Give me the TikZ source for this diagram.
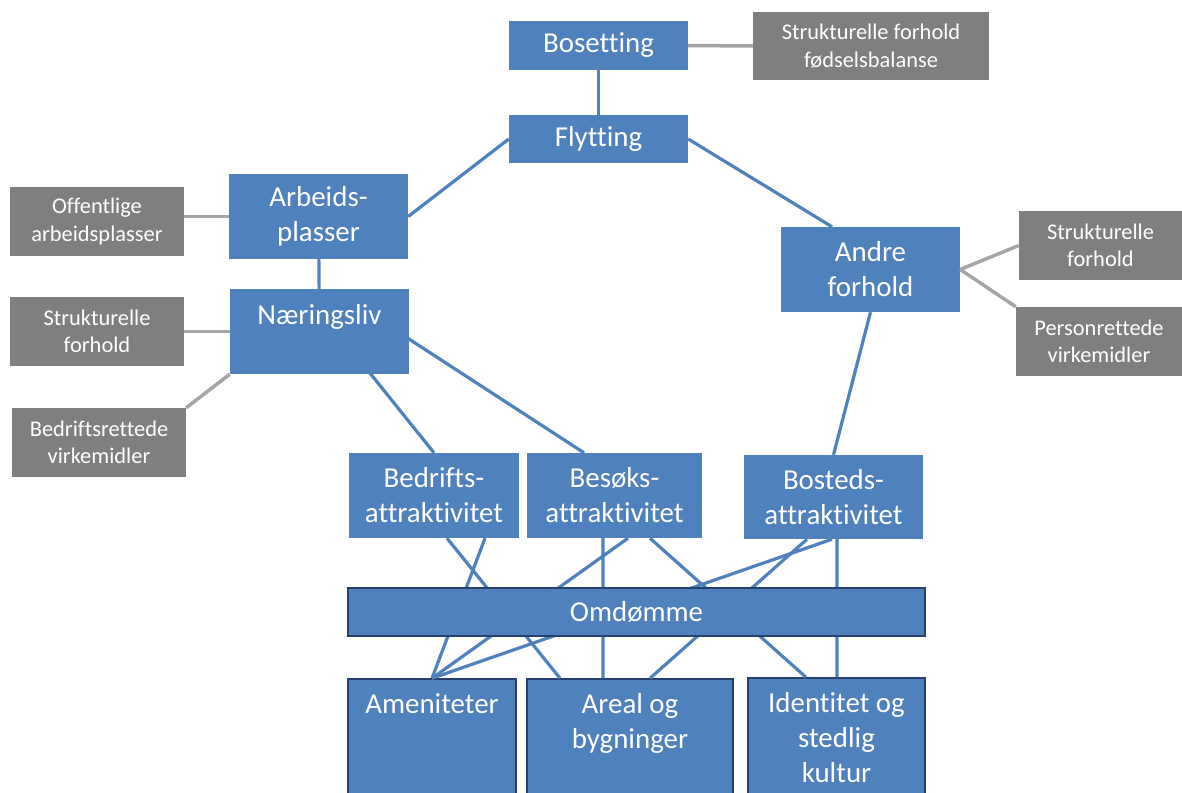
\documentclass[tikz,border=0pt]{standalone}
\usepackage{fontspec}
\setmainfont{Carlito}[Ligatures=NoCommon]
\definecolor{boxblue}{HTML}{4F81BD}
\definecolor{boxedge}{HTML}{24406E}
\definecolor{notegray}{HTML}{7F7F7F}
\definecolor{linegray}{HTML}{A5A5A5}
\tikzset{
  box/.style={rectangle,fill=boxblue,text=white,align=center,inner sep=0pt,
    font=\fontsize{29}{35}\selectfont},
  note/.style={rectangle,fill=notegray,text=white,align=center,inner sep=0pt,
    font=\fontsize{22.5}{27.5}\selectfont},
  framed/.style={draw=boxedge,line width=1.5bp},
  toptext/.style={label={[anchor=north,yshift=-15bp,text=white,align=center,
    inner sep=0pt,font=\fontsize{29}{35}\selectfont]north:#1}},
  link/.style={draw=boxblue,line width=3.2bp},
  notelink/.style={draw=linegray,line width=3.5bp}
}
\begin{document}
\begin{tikzpicture}[x=1bp,y=-1bp]
  \useasboundingbox (0,0) rectangle (1182,793);

  % blue boxes
  \node[box,minimum width=179bp,minimum height=49bp] (bosetting) at (598.5,45.5) {Bosetting};
  \node[box,minimum width=179bp,minimum height=48bp] (flytting) at (598.5,139) {Flytting};
  \node[box,minimum width=179bp,minimum height=85bp] (arbeid) at (318.5,216.5) {Arbeids-\\plasser};
  \node[box,minimum width=179bp,minimum height=85bp,toptext=Næringsliv] (naering) at (319.5,331.5) {};
  \node[box,minimum width=179bp,minimum height=85bp] (andre) at (870.5,269.5) {Andre\\forhold};
  \node[box,minimum width=170bp,minimum height=85bp] (bedrift) at (434,495.5) {Bedrifts-\\attraktivitet};
  \node[box,minimum width=175bp,minimum height=85bp] (besok) at (614.5,495.5) {Besøks-\\attraktivitet};
  \node[box,minimum width=179bp,minimum height=84bp] (bosted) at (833.5,497) {Bosteds-\\attraktivitet};
  \node[box,framed,minimum width=168bp,minimum height=130bp,toptext=Ameniteter] (amen) at (432,744) {};
  \node[box,framed,minimum width=206bp,minimum height=130bp,toptext={Areal og\\bygninger}] (areal) at (630,744) {};
  \node[box,framed,minimum width=177bp,minimum height=132bp,toptext={Identitet og\\stedlig\\kultur}] (ident) at (836.5,744) {};

  % grey boxes
  \node[note,minimum width=236bp,minimum height=68bp] (fodsel) at (871,46) {Strukturelle forhold\\fødselsbalanse};
  \node[note,minimum width=174bp,minimum height=69bp] (offentlig) at (97,221.5) {Offentlige\\arbeidsplasser};
  \node[note,minimum width=174bp,minimum height=69bp] (strukt1) at (97,331.5) {Strukturelle\\forhold};
  \node[note,minimum width=174bp,minimum height=69bp] (bedriftsrettet) at (99,442.5) {Bedriftsrettede\\virkemidler};
  \node[note,minimum width=163bp,minimum height=69bp] (strukt2) at (1100.5,245.5) {Strukturelle\\forhold};
  \node[note,minimum width=166bp,minimum height=69bp] (personrettet) at (1099,341.5) {Personrettede\\virkemidler};

  \coordinate (nl1) at (349,347);
  \coordinate (nl2) at (392,328);

  \foreach \from/\to in {bosetting.east/fodsel.west, strukt1.east/naering.west,
  bedriftsrettet.north east/naering.south west, andre.east/strukt2.west,
  andre.east/personrettet.north west}
    \draw[notelink] (\from) -- (\to);
  \draw[notelink] (arbeid.west) -- (arbeid.west -| offentlig.east);

  \foreach \from/\to in {bosetting/flytting, arbeid/naering, flytting.west/arbeid.east,
  andre.south/bosted.north, nl1/bedrift.north}
    \draw[link] (\from) -- (\to);
  \draw[link] (flytting.east) -- ([xshift=-38.5bp]andre.north);
  \draw[link] (nl2) -- ([xshift=-30.5bp]besok.north);

  \foreach \a/\da/\b/\db in {bedrift/13/areal/-70, bedrift/51/amen/0,
  besok/-11.5/areal/-27, besok/13.5/amen/0, besok/35.5/ident/-30.5,
  bosted/-26.5/areal/20, bosted/-1.5/amen/0, bosted/3.5/ident/0.5}
    \draw[link] ([xshift=\da bp]\a.south) -- ([xshift=\db bp]\b.north);

  \node[box,framed,minimum width=577bp,minimum height=48bp] (omdomme) at (636.5,612) {Omdømme};

\end{tikzpicture}
\end{document}
